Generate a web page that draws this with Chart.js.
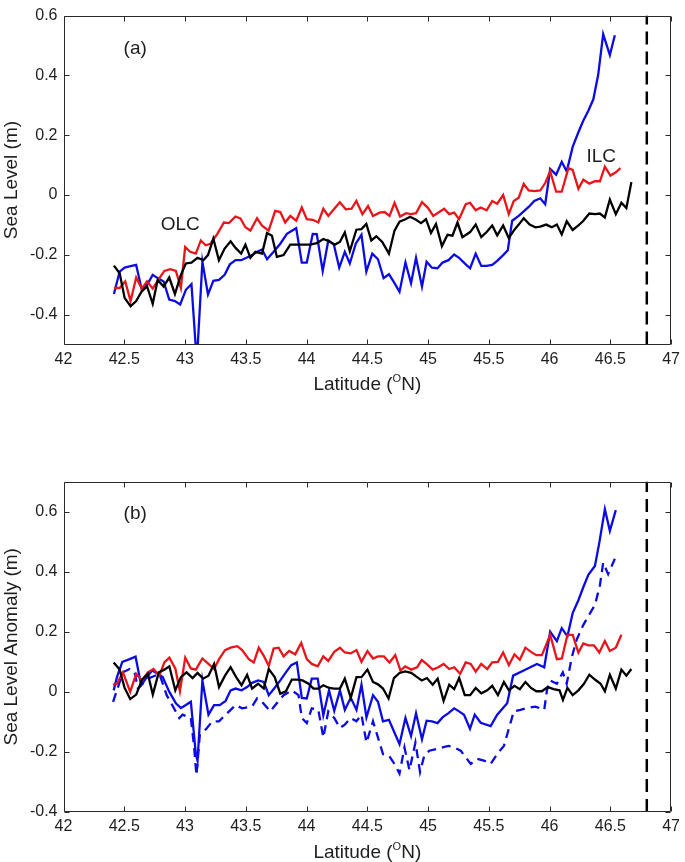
<!DOCTYPE html>
<html>
<head>
<meta charset="utf-8">
<script src="https://cdn.jsdelivr.net/npm/chart.js@4.4.0/dist/chart.umd.min.js"></script>
<style>
  html, body { margin: 0; padding: 0; background: #fff; }
  body { width: 685px; height: 862px; position: relative; overflow: hidden; }
  canvas { position: absolute; left: 0; }
  #chartA { top: 0; }
  #chartB { top: 466px; }
</style>
</head>
<body>
<canvas id="chartA" width="685" height="420"></canvas>
<canvas id="chartB" width="685" height="396"></canvas>
<script>
// ---- tick labels ----
const latTicks = [42, 42.5, 43, 43.5, 44, 44.5, 45, 45.5, 46, 46.5, 47];
const levelTicks = [-0.4, -0.2, 0, 0.2, 0.4, 0.6];

// coast (dashed vertical line) latitude
const coastLat = [46.8, 46.8];
const coastA = [-0.5, 0.6];
const coastB = [-0.4, 0.7];

// ---- panel (a): sea level (m) ----
const latRedA = [
  42.415,42.462,42.508,42.552,42.598,42.644,42.688,42.734,42.789,42.83,
  42.879,42.925,42.966,43.001,43.042,43.089,43.13,43.17,43.21,43.266,
  43.32,43.361,43.415,43.456,43.497,43.538,43.593,43.634,43.688,43.742,
  43.784,43.824,43.866,43.915,43.961,44.002,44.051,44.097,44.138,44.179,
  44.225,44.274,44.323,44.37,44.41,44.46,44.506,44.547,44.601,44.642,
  44.683,44.724,44.77,44.819,44.86,44.901,44.95,44.997,45.043,45.092,
  45.133,45.174,45.215,45.255,45.31,45.346,45.392,45.433,45.482,45.528,
  45.569,45.618,45.664,45.705,45.746,45.787,45.828,45.874,45.923,45.964,
  46.005,46.054,46.1,46.155,46.19,46.237,46.278,46.327,46.373,46.414,
  46.455,46.501,46.545,46.583];
const seaRedA = [
  -0.311,-0.311,-0.289,-0.355,-0.276,-0.313,-0.289,-0.313,-0.278,-0.254,
  -0.248,-0.254,-0.311,-0.174,-0.19,-0.196,-0.152,-0.168,-0.163,-0.13,
  -0.092,-0.094,-0.072,-0.078,-0.108,-0.119,-0.078,-0.103,-0.119,-0.053,
  -0.057,-0.092,-0.07,-0.086,-0.042,-0.081,-0.083,-0.092,-0.046,-0.07,
  -0.048,-0.024,-0.048,-0.046,-0.02,-0.064,-0.037,-0.07,-0.059,-0.057,
  -0.07,-0.026,-0.072,-0.061,-0.064,-0.061,-0.024,-0.042,-0.07,-0.057,
  -0.046,-0.064,-0.059,-0.081,-0.031,-0.026,-0.051,-0.042,-0.051,-0.02,
  -0.029,0.0,-0.064,-0.02,-0.009,0.037,0.015,0.013,0.015,0.04,
  0.079,0.011,0.011,0.09,0.084,0.021,0.051,0.038,0.046,0.046,
  0.095,0.065,0.076,0.09];

const latBlackA = [
  42.415,42.462,42.503,42.552,42.598,42.644,42.688,42.734,42.775,42.824,
  42.87,42.917,42.966,43.007,43.053,43.102,43.151,43.189,43.233,43.279,
  43.326,43.375,43.416,43.462,43.497,43.538,43.579,43.634,43.675,43.715,
  43.756,43.811,43.866,43.92,43.975,44.029,44.084,44.138,44.187,44.233,
  44.274,44.315,44.356,44.41,44.452,44.492,44.533,44.574,44.623,44.678,
  44.724,44.765,44.814,44.852,44.901,44.942,44.983,45.024,45.065,45.114,
  45.16,45.201,45.242,45.283,45.346,45.392,45.438,45.482,45.528,45.569,
  45.618,45.664,45.705,45.746,45.787,45.836,45.883,45.923,45.972,46.019,
  46.06,46.1,46.141,46.19,46.237,46.278,46.327,46.373,46.414,46.455,
  46.496,46.545,46.591,46.632,46.673];
const seaBlackA = [
  -0.236,-0.262,-0.344,-0.372,-0.355,-0.322,-0.306,-0.364,-0.284,-0.306,
  -0.276,-0.331,-0.267,-0.229,-0.226,-0.21,-0.218,-0.201,-0.146,-0.218,
  -0.179,-0.155,-0.177,-0.196,-0.166,-0.21,-0.19,-0.196,-0.127,-0.136,
  -0.207,-0.201,-0.166,-0.166,-0.166,-0.166,-0.161,-0.147,-0.155,-0.166,
  -0.157,-0.125,-0.188,-0.116,-0.114,-0.097,-0.152,-0.138,-0.157,-0.196,
  -0.119,-0.089,-0.081,-0.073,-0.083,-0.094,-0.081,-0.127,-0.097,-0.171,
  -0.133,-0.136,-0.092,-0.141,-0.124,-0.099,-0.141,-0.124,-0.102,-0.135,
  -0.102,-0.144,-0.119,-0.099,-0.078,-0.099,-0.108,-0.106,-0.099,-0.108,
  -0.099,-0.132,-0.088,-0.117,-0.102,-0.086,-0.062,-0.064,-0.062,-0.075,
  -0.015,-0.064,-0.026,-0.044,0.043];

const latBlueA = [
  42.415,42.462,42.503,42.552,42.598,42.644,42.688,42.734,42.775,42.824,
  42.87,42.917,42.96,43.007,43.053,43.097,43.143,43.189,43.233,43.279,
  43.326,43.369,43.416,43.462,43.506,43.552,43.593,43.634,43.675,43.729,
  43.784,43.838,43.915,43.961,44.002,44.051,44.084,44.133,44.179,44.225,
  44.269,44.315,44.356,44.405,44.452,44.492,44.541,44.588,44.634,44.678,
  44.724,44.765,44.814,44.86,44.901,44.95,44.988,45.032,45.078,45.119,
  45.168,45.215,45.255,45.31,45.346,45.392,45.438,45.482,45.528,45.569,
  45.618,45.656,45.692,45.746,45.787,45.828,45.874,45.923,45.964,46.005,
  46.054,46.1,46.141,46.19,46.237,46.278,46.319,46.36,46.4,46.441,
  46.496,46.537];
const seaBlueA = [
  -0.331,-0.256,-0.243,-0.238,-0.234,-0.317,-0.3,-0.267,-0.278,-0.289,
  -0.35,-0.355,-0.366,-0.317,-0.298,-0.56,-0.223,-0.333,-0.287,-0.284,
  -0.267,-0.232,-0.218,-0.218,-0.21,-0.201,-0.19,-0.182,-0.215,-0.19,
  -0.163,-0.13,-0.111,-0.226,-0.226,-0.13,-0.131,-0.254,-0.152,-0.166,
  -0.243,-0.19,-0.229,-0.163,-0.133,-0.256,-0.196,-0.215,-0.278,-0.265,
  -0.295,-0.324,-0.226,-0.295,-0.21,-0.306,-0.223,-0.243,-0.245,-0.226,
  -0.218,-0.199,-0.21,-0.232,-0.245,-0.196,-0.237,-0.237,-0.234,-0.22,
  -0.201,-0.185,-0.086,-0.07,-0.055,-0.04,-0.02,-0.011,-0.031,0.087,
  0.068,0.111,0.079,0.161,0.21,0.249,0.282,0.32,0.402,0.538,
  0.468,0.534];

// ---- panel (b): sea level anomaly (m) ----
const latRedB = [
  42.408,42.44,42.489,42.549,42.598,42.647,42.694,42.74,42.789,42.83,
  42.871,42.92,42.958,43.002,43.048,43.089,43.143,43.193,43.239,43.28,
  43.329,43.375,43.43,43.47,43.525,43.566,43.607,43.648,43.689,43.729,
  43.77,43.811,43.857,43.907,43.956,44.002,44.043,44.092,44.138,44.179,
  44.228,44.275,44.315,44.364,44.411,44.452,44.501,44.547,44.588,44.637,
  44.683,44.73,44.773,44.812,44.861,44.91,44.948,44.997,45.038,45.084,
  45.128,45.174,45.215,45.264,45.31,45.351,45.392,45.438,45.487,45.528,
  45.575,45.618,45.665,45.711,45.755,45.801,45.847,45.891,45.937,46.005,
  46.06,46.101,46.147,46.19,46.237,46.278,46.319,46.365,46.409,46.455,
  46.496,46.545,46.591];
const anomRedB = [
  0.024,0.027,0.065,0.0,0.06,0.038,0.065,0.076,0.054,0.098,
  0.114,0.078,0.002,0.114,0.078,0.074,0.111,0.093,0.076,0.109,
  0.139,0.147,0.152,0.139,0.109,0.098,0.147,0.12,0.087,0.144,
  0.147,0.118,0.136,0.125,0.163,0.109,0.093,0.085,0.118,0.103,
  0.133,0.147,0.131,0.128,0.139,0.1,0.136,0.111,0.118,0.118,
  0.098,0.122,0.071,0.085,0.074,0.082,0.106,0.09,0.074,0.082,
  0.093,0.076,0.082,0.06,0.098,0.093,0.067,0.093,0.076,0.098,
  0.1,0.131,0.089,0.125,0.107,0.147,0.133,0.122,0.122,0.19,
  0.109,0.111,0.19,0.19,0.131,0.161,0.155,0.155,0.131,0.169,
  0.136,0.147,0.19];

const latBlackB = [
  42.413,42.462,42.503,42.549,42.598,42.647,42.694,42.735,42.784,42.83,
  42.871,42.92,42.966,43.013,43.062,43.103,43.149,43.193,43.239,43.28,
  43.329,43.375,43.421,43.465,43.511,43.552,43.601,43.648,43.689,43.738,
  43.784,43.83,43.879,43.92,43.967,44.016,44.057,44.097,44.138,44.185,
  44.228,44.275,44.315,44.364,44.411,44.452,44.501,44.547,44.588,44.629,
  44.675,44.719,44.765,44.812,44.861,44.91,44.948,44.991,45.038,45.079,
  45.128,45.174,45.215,45.256,45.302,45.346,45.392,45.438,45.487,45.528,
  45.575,45.624,45.665,45.711,45.755,45.801,45.847,45.891,45.937,45.984,
  46.033,46.082,46.11,46.147,46.19,46.237,46.283,46.327,46.373,46.42,
  46.455,46.496,46.545,46.591,46.632,46.673];
const anomBlackB = [
  0.098,0.074,0.013,-0.024,-0.009,0.041,0.06,-0.009,0.065,0.074,
  0.085,0.005,0.049,0.065,0.046,0.063,0.044,0.054,0.093,0.016,
  0.054,0.082,0.049,0.022,0.057,0.011,0.027,0.011,0.076,0.049,
  -0.006,0.002,0.041,0.041,0.038,0.027,0.011,0.011,0.022,0.013,
  0.011,0.011,0.044,-0.02,0.049,0.049,0.074,0.033,0.025,0.011,
  -0.022,0.046,0.063,0.068,0.063,0.049,0.038,0.046,0.024,0.044,
  -0.03,0.024,0.009,0.046,-0.011,-0.011,0.013,-0.005,0.005,0.02,
  -0.011,0.033,0.005,0.02,0.009,0.033,0.013,0.002,0.002,0.016,
  0.009,0.005,-0.027,0.013,-0.011,0.005,0.027,0.057,0.041,0.027,
  0.002,0.057,0.011,0.074,0.054,0.076];

const latBlueB = [
  42.413,42.44,42.484,42.544,42.593,42.639,42.686,42.729,42.776,42.816,
  42.871,42.925,42.966,43.007,43.048,43.089,43.103,43.143,43.193,43.239,
  43.285,43.334,43.375,43.416,43.465,43.511,43.552,43.601,43.648,43.689,
  43.743,43.784,43.83,43.874,43.92,43.961,44.002,44.043,44.092,44.138,
  44.185,44.228,44.275,44.315,44.364,44.411,44.452,44.493,44.547,44.588,
  44.629,44.678,44.724,44.765,44.814,44.86,44.901,44.95,44.988,45.032,
  45.078,45.119,45.168,45.215,45.255,45.296,45.345,45.384,45.433,45.515,
  45.569,45.651,45.7,45.787,45.896,45.956,46.005,46.06,46.1,46.147,
  46.19,46.237,46.278,46.319,46.373,46.409,46.455,46.496,46.545];
const anomBlueB = [
  0.005,0.049,0.1,0.109,0.117,0.022,0.049,0.071,0.06,0.049,
  0.0,-0.038,-0.054,-0.044,-0.033,-0.207,-0.229,0.038,-0.076,-0.044,
  -0.044,-0.03,0.005,0.011,0.005,0.016,0.03,0.038,0.033,-0.011,
  0.016,0.038,0.065,0.089,0.098,-0.02,-0.022,0.044,0.044,-0.078,
  0.005,-0.063,0.005,-0.06,-0.02,-0.06,0.024,-0.085,-0.011,-0.033,
  -0.098,-0.093,-0.136,-0.174,-0.087,-0.147,-0.071,-0.158,-0.096,-0.098,
  -0.104,-0.085,-0.071,-0.055,-0.065,-0.076,-0.123,-0.076,-0.103,-0.114,
  -0.076,-0.038,0.054,0.071,0.093,0.082,0.2,0.169,0.212,0.185,
  0.262,0.305,0.349,0.39,0.419,0.496,0.608,0.536,0.605];

const latDashB = [
  42.408,42.489,42.544,42.585,42.612,42.694,42.789,42.849,42.953,42.98,
  43.048,43.075,43.094,43.122,43.171,43.225,43.28,43.334,43.416,43.47,
  43.552,43.593,43.634,43.702,43.743,43.811,43.879,43.934,43.961,44.002,
  44.043,44.097,44.138,44.179,44.228,44.275,44.315,44.364,44.411,44.452,
  44.493,44.547,44.629,44.678,44.724,44.765,44.806,44.847,44.896,44.934,
  44.969,45.01,45.07,45.119,45.168,45.215,45.269,45.351,45.405,45.46,
  45.515,45.569,45.624,45.678,45.705,45.76,45.814,45.883,45.956,45.978,
  46.005,46.06,46.109,46.141,46.182,46.223,46.278,46.332,46.373,46.414,
  46.441,46.482,46.537];
const anomDashB = [
  -0.033,0.065,0.076,0.065,0.011,0.044,0.06,-0.011,-0.087,-0.076,
  -0.087,-0.185,-0.278,-0.142,-0.125,-0.098,-0.098,-0.076,-0.044,-0.055,
  -0.049,-0.022,-0.033,-0.065,-0.044,-0.011,0.005,-0.011,-0.087,-0.104,
  -0.055,-0.06,-0.152,-0.065,-0.087,-0.12,-0.109,-0.087,-0.098,-0.076,
  -0.169,-0.098,-0.207,-0.212,-0.24,-0.272,-0.185,-0.261,-0.169,-0.267,
  -0.212,-0.196,-0.19,-0.185,-0.18,-0.185,-0.196,-0.24,-0.223,-0.229,
  -0.24,-0.207,-0.18,-0.104,-0.065,-0.06,-0.054,-0.049,-0.06,0.005,
  0.038,0.027,0.065,0.027,0.114,0.174,0.223,0.261,0.289,0.354,
  0.43,0.392,0.443];

// ---- look ----
const FONT = '"Liberation Sans", Arial, Helvetica, sans-serif';
const INK = '#1e1e1e';
const RED = 'rgb(232,22,26)';
const BLUE = 'rgb(12,12,226)';

function pts(xs, ys){ return xs.map((x, i) => ({ x: x, y: ys[i] })); }

function series(data, color, dash, width){
  return { data: data, borderColor: color, borderWidth: width || 2.3, borderDash: dash || [],
           pointRadius: 0, tension: 0, fill: false, spanGaps: false };
}

// matlab style box: inward ticks on all four sides, labels, x title with superscript
const frame = {
  id: 'frame',
  afterDraw(chart, args, opts){
    const { ctx, chartArea: a, scales: { x, y } } = chart;
    const L = Math.round(a.left) + 0.5, R = Math.round(a.right) - 0.5;
    const T = Math.round(a.top) + 0.5, B = Math.round(a.bottom) - 0.5;
    ctx.save();
    ctx.strokeStyle = '#2a2a2a';
    ctx.lineWidth = 1;
    ctx.beginPath();
    ctx.rect(L, T, R - L, B - T);
    x.ticks.forEach(t => {
      const p = Math.round(x.getPixelForValue(t.value)) + 0.5;
      ctx.moveTo(p, B); ctx.lineTo(p, B - 5);
      ctx.moveTo(p, T); ctx.lineTo(p, T + 5);
    });
    y.ticks.forEach(t => {
      const p = Math.round(y.getPixelForValue(t.value)) + 0.5;
      ctx.moveTo(L, p); ctx.lineTo(L + 5, p);
      ctx.moveTo(R, p); ctx.lineTo(R - 5, p);
    });
    ctx.stroke();

    ctx.fillStyle = INK;
    ctx.textAlign = 'center';
    ctx.textBaseline = 'middle';
    (opts.notes || []).forEach(n => {
      ctx.font = '19px ' + FONT;
      ctx.fillText(n.text, x.getPixelForValue(n.x), y.getPixelForValue(n.y));
    });

    // "Latitude (ºN)" with a raised O
    const parts = [['Latitude (', 19, 0], ['O', 11, -8], ['N)', 19, 0]];
    let w = 0;
    parts.forEach(p => { ctx.font = p[1] + 'px ' + FONT; w += ctx.measureText(p[0]).width; });
    let cx = (a.left + a.right) / 2 - w / 2;
    const base = a.bottom + 45.5;
    ctx.textAlign = 'left';
    ctx.textBaseline = 'alphabetic';
    parts.forEach(p => {
      ctx.font = p[1] + 'px ' + FONT;
      ctx.fillText(p[0], cx, base + p[2]);
      cx += ctx.measureText(p[0]).width;
    });
    ctx.restore();
  }
};

function makeChart(id, datasets, yMin, yMax, yTitle, padding, notes){
  return new Chart(document.getElementById(id), {
    type: 'line',
    data: { datasets: datasets },
    options: {
      responsive: false,
      animation: false,
      devicePixelRatio: 1,
      layout: { padding: padding },
      plugins: { legend: { display: false }, tooltip: { enabled: false }, frame: { notes: notes } },
      scales: {
        x: {
          type: 'linear', min: 42, max: 47,
          afterBuildTicks: s => { s.ticks = latTicks.map(v => ({ value: v })); },
          afterFit: s => { s.height = 50; },
          grid: { display: false, drawTicks: false },
          border: { display: false },
          ticks: { padding: 5, autoSkip: false, maxRotation: 0, color: INK,
                   font: { family: FONT, size: 16 }, callback: v => String(v) }
        },
        y: {
          type: 'linear', min: yMin, max: yMax,
          afterBuildTicks: s => { s.ticks = levelTicks.map(v => ({ value: v })); },
          afterFit: s => { s.width = 63.5; },
          grid: { display: false, drawTicks: false },
          border: { display: false },
          ticks: { padding: 6, autoSkip: false, color: INK,
                   font: { family: FONT, size: 16 }, callback: v => String(v) },
          title: { display: true, text: yTitle, color: INK, font: { family: FONT, size: 19 }, padding: { top: 0, bottom: 0 } }
        }
      }
    },
    plugins: [frame]
  });
}

makeChart('chartA', [
  series(pts(latBlackA, seaBlackA), '#000'),
  series(pts(latRedA, seaRedA), RED),
  series(pts(latBlueA, seaBlueA), BLUE),
  series(pts(coastLat, coastA), '#000', [13, 7], 2.5)
], -0.5, 0.6, 'Sea Level (m)', { left: 0, right: 9.5, top: 8, bottom: 25.5 }, [
  { text: '(a)', x: 42.59, y: 0.489 },
  { text: 'OLC', x: 42.96, y: -0.101 },
  { text: 'ILC', x: 46.425, y: 0.128 }
]);

makeChart('chartB', [
  series(pts(latBlackB, anomBlackB), '#000'),
  series(pts(latRedB, anomRedB), RED),
  series(pts(latBlueB, anomBlueB), BLUE),
  series(pts(latDashB, anomDashB), BLUE, [9, 6]),
  series(pts(coastLat, coastB), '#000', [13, 7], 2.5)
], -0.4, 0.7, 'Sea Level Anomaly (m)', { left: 0, right: 9.5, top: 10, bottom: 0 }, [
  { text: '(b)', x: 42.59, y: 0.592 }
]);
</script>
</body>
</html>
